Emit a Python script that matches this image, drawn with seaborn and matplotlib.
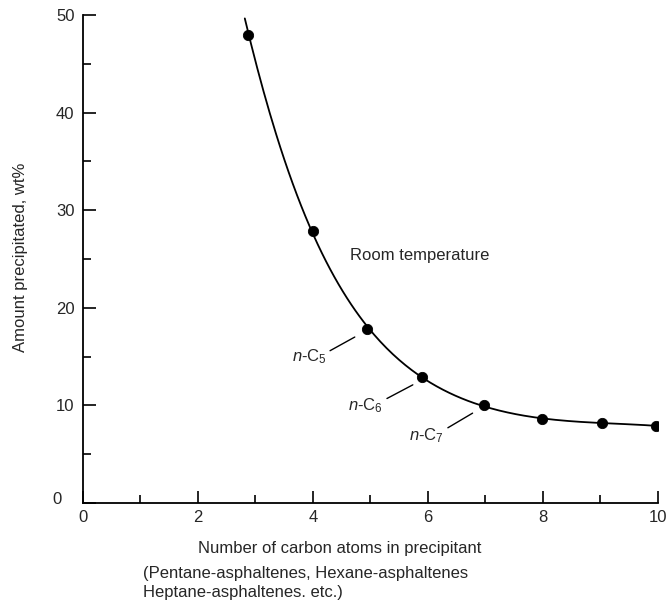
import numpy as np
import pandas as pd
import matplotlib
matplotlib.use("Agg")
import matplotlib.pyplot as plt
import seaborn as sns

# data
carbon_atoms = [2.88, 4.0, 4.95, 5.9, 6.98, 7.98, 9.03, 9.97]
precipitated = [48.0, 27.9, 17.8, 12.9, 10.0, 8.6, 8.2, 7.9]
labels = ["n-C5", "n-C6", "n-C7"]

sns.set_style("ticks")
plt.rcParams["font.family"] = ["Liberation Sans", "DejaVu Sans"]
plt.rcParams["mathtext.fontset"] = "custom"
plt.rcParams["mathtext.rm"] = "Liberation Sans"
plt.rcParams["mathtext.it"] = "Liberation Sans:italic"

df = pd.DataFrame({"x": carbon_atoms, "y": precipitated})

# smooth curve through the points (polynomial fit on log y)
coef = np.polyfit(df["x"], np.log(df["y"]), 4)
xs = np.linspace(2.78, 10.0, 200)
ys = np.exp(np.polyval(coef, xs))
curve = pd.DataFrame({"x": xs, "y": ys})
curve = curve[curve["y"] <= 50]

fig = plt.figure(figsize=(6.69, 6.03), dpi=100)
ax = fig.add_axes([0.124, 0.166, 0.859, 0.809])

sns.lineplot(data=curve, x="x", y="y", ax=ax, color="black", lw=1.3)
sns.scatterplot(data=df, x="x", y="y", ax=ax, color="black", s=55, edgecolor="black", zorder=3)

fs = 12
ax.set_xlim(0, 10)
ax.set_ylim(0, 50)
ax.set_xticks([0, 2, 4, 6, 8, 10])
ax.set_xticks([1, 3, 5, 7, 9], minor=True)
ax.set_yticks([0, 10, 20, 30, 40, 50])
ax.set_yticks([5, 15, 25, 35, 45], minor=True)
ax.set_yticklabels(["", "10", "20", "30", "40", "50"])
ax.tick_params(which="major", direction="in", length=9, width=1.2, labelsize=fs, pad=6, color="black")
ax.tick_params(which="minor", direction="in", length=5.5, width=1.2, color="black")
ax.tick_params(axis="x", pad=5)
sns.despine(ax=ax)
for s in ["left", "bottom"]:
    ax.spines[s].set_linewidth(1.3)
    ax.spines[s].set_color("black")
ax.set_xlabel("")
ax.set_ylabel("")

# y label and the offset zero
fig.text(0.03, 0.573, "Amount precipitated, wt%", rotation=90, ha="center", va="center", fontsize=fs)
fig.text(0.092, 0.171, "0", ha="right", va="center", fontsize=fs)

# x label and caption
fig.text(0.508, 0.091, "Number of carbon atoms in precipitant", ha="center", va="center", fontsize=fs)
fig.text(0.214, 0.062, "(Pentane-asphaltenes, Hexane-asphaltenes\nHeptane-asphaltenes. etc.)",
         ha="left", va="top", fontsize=fs, linespacing=1.35)

ax.text(4.64, 25.4, "Room temperature", ha="left", va="center", fontsize=fs)

# leader lines and labels for n-C5, n-C6, n-C7
leaders = [((4.30, 15.6), (4.73, 17.0), (4.24, 15.0)),
           ((5.29, 10.7), (5.74, 12.1), (5.22, 10.0)),
           ((6.35, 7.7), (6.78, 9.2), (6.28, 6.9))]
for lab, (p0, p1, pt) in zip(labels, leaders):
    ax.annotate("", xy=p1, xytext=p0, arrowprops=dict(arrowstyle="-", lw=1.0, color="black",
                                                     shrinkA=0, shrinkB=0))
    ax.text(pt[0], pt[1], r"$\it{n}$-C$_{%s}$" % lab[-1], ha="right", va="center", fontsize=fs)

fig.savefig("out.png", dpi=100)
